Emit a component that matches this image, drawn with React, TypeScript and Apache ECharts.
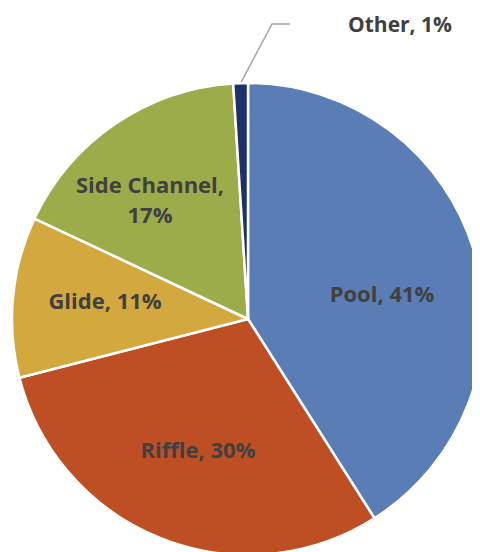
import React, { useEffect, useRef } from "react";
import * as echarts from "echarts";

const categories = ["Pool", "Riffle", "Glide", "Side Channel", "Other"];
const values = [41, 30, 11, 17, 1];
const colors = ["#5B7DB5", "#BE4F25", "#D3A93F", "#9CAC4A", "#1B3168"];
const labelTexts = ["Pool, 41%", "Riffle, 30%", "Glide, 11%", "Side Channel,\n17%", "Other, 1%"];
const labelSpots = [
  [374, 285],
  [190, 441],
  [97, 292],
  [142, 191],
  [282, 27],
];

export default function App() {
  const ref = useRef<HTMLDivElement>(null);
  useEffect(() => {
    if (!ref.current) return;
    const chart = echarts.init(ref.current, null, { renderer: "svg" });
    chart.setOption({
      animation: false,
      series: [
        {
          type: "pie",
          center: [240, 311],
          radius: 236,
          startAngle: 90,
          clockwise: true,
          avoidLabelOverlap: false,
          itemStyle: { borderColor: "#ffffff", borderWidth: 2.5 },
          label: {
            show: true,
            position: "inside",
            color: "#404040",
            fontFamily: "Open Sans",
            fontWeight: "bold",
            fontSize: 22,
            lineHeight: 30,
            formatter: (p: any) => labelTexts[p.dataIndex],
          },
          labelLayout: (p: any) =>
            p.dataIndex === 4
              ? {
                  x: labelSpots[4][0],
                  y: labelSpots[4][1],
                  align: "left",
                  verticalAlign: "bottom",
                }
              : {
                  x: labelSpots[p.dataIndex][0],
                  y: labelSpots[p.dataIndex][1],
                  align: "center",
                  verticalAlign: "middle",
                },
          emphasis: { disabled: true },
          data: categories.map((c, i) => ({
            name: c,
            value: values[i],
            itemStyle: { color: colors[i] },
            ...(i === 4
              ? {
                  label: {
                    position: "outside",
                    fontSize: 21,
                    lineHeight: 22,
                    padding: [0, 0, 0, 58],
                  },
                  labelLine: {
                    show: true,
                    length: 45,
                    length2: 18,
                    lineStyle: { color: "#A6A6A6", width: 1.5 },
                  },
                }
              : {}),
          })),
        },
      ],
    });
    return () => chart.dispose();
  }, []);
  return <div ref={ref} style={{ width: 480, height: 552 }} />;
}
